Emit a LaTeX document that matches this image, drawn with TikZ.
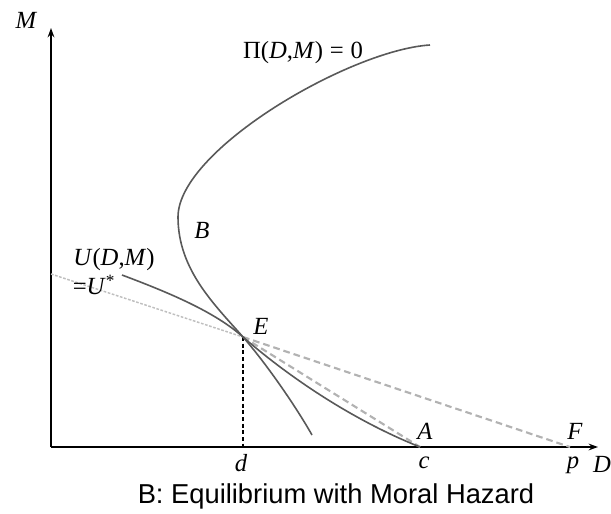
\documentclass[tikz,border=0pt]{standalone}
\usepackage{fontspec}
\setmainfont{Liberation Serif}
\newfontfamily\capfont{Liberation Sans}
\usetikzlibrary{arrows.meta}
\begin{document}
\begin{tikzpicture}[x=0.75pt,y=-0.75pt,
  axis/.style={line width=1.4pt,-{Stealth[length=7pt,width=5pt]}},
  curve/.style={line width=1.2pt,draw=black!65},
  grdash/.style={line width=1.6pt,draw=black!30,dash pattern=on 5pt off 3pt},
  grdot/.style={line width=1.1pt,draw=black!25,dash pattern=on 2pt off 1.2pt},
  lbl/.style={font=\fontsize{18.5}{20}\selectfont\itshape,inner sep=0pt},
  lblup/.style={font=\fontsize{18.5}{20}\selectfont,inner sep=0pt}]
\useasboundingbox (0,0) rectangle (611,514);
\coordinate (O) at (51,447);
\coordinate (ytop) at (51,28);
\coordinate (xend) at (598,447);
\coordinate (E) at (243,337);
\coordinate (Ed) at (243,447);
\coordinate (Apt) at (420,447);
\coordinate (Fpt) at (570,447);
\coordinate (Ustart) at (51,274);
\coordinate (P0) at (430,45);
\coordinate (P1) at (178,217);
\coordinate (P3) at (312,435);
\coordinate (U0) at (122,275);
% axes
\draw[axis] (O) -- (ytop);
\draw[axis] (O) -- (xend);
% dotted tangent
\draw[grdot] (Ustart) -- (E);
% dashed lines
\draw[grdash] (E) -- (Apt);
\draw[grdash] (E) -- (Fpt);
% vertical dashed
\draw[line width=0.8pt,dash pattern=on 3pt off 2pt] (E) -- (Ed);
% Pi curve
\draw[curve] (P0) .. controls (350,50) and (178,150) .. (P1)
  .. controls (178,270) and (215,305) .. (E)
  .. controls (265,362) and (295,405) .. (P3);
% U curve
\draw[curve] (U0) .. controls (170,293) and (215,312) .. (E)
  .. controls (275,365) and (340,415) .. (Apt);
% labels
\node[lbl] (Mlbl) at (26,20) {M};
\node[lbl] (Dlbl) at (602,464) {D};
\node[lblup] (Pilbl) at (303,53) {Π(\textit{D},\textit{M})\;=\;0};
\node[lbl] (Blbl) at (202,230) {B};
\node[lblup] (Ulbl) at (114,260) {\textit{U}(\textit{D},\textit{M})};
\node[lblup] (Uslbl) at (94,285) {=\textit{U}\textsuperscript{*}};
\node[lbl] (Elbl) at (261,326) {E};
\node[lbl] (Albl) at (425,431) {A};
\node[lbl] (Flbl) at (575,431) {F};
\node[lbl] (dlbl) at (241,463) {d};
\node[lbl] (clbl) at (424,463) {c};
\node[lbl] (plbl) at (573,465) {p};
\node[inner sep=0pt,font=\capfont\fontsize{20.5}{22}\selectfont] (cap) at (336,496) {B: Equilibrium with Moral Hazard};
\end{tikzpicture}
\end{document}
